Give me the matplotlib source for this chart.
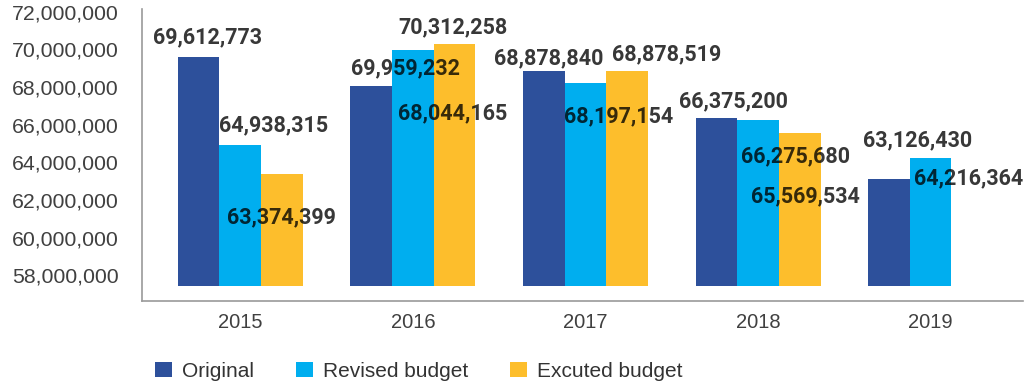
import matplotlib
matplotlib.use("Agg")
import matplotlib.pyplot as plt
import numpy as np
from matplotlib.ticker import FuncFormatter, MultipleLocator

# -----------------------------
# Budget figures per year
# -----------------------------
years = ["2015", "2016", "2017", "2018", "2019"]
original = [69612773, 68044165, 68878840, 66375200, 63126430]
revised = [64938315, 69959232, 68197154, 66275680, 64216364]
executed = [63374399, 70312258, 68878519, 65569534, np.nan]
series_names = ["Original", "Revised budget", "Excuted budget"]

# -----------------------------
# Styling
# -----------------------------
COLORS = ["#2D509B", "#00AEEF", "#FDBE2C"]
BAR_W = 0.2416
BASE = 57.44e6                     # bars start slightly above the x-axis line
YLIM = (56.63e6, 72.15e6)
XLIM = (-0.571, 4.535)

# label offsets from each bar top, in pixels (dx right, dy down)
LABEL_OFFSETS = [
    [(9, -19), (81, 27), (5, -12), (17, -16), (29, -38)],
    [(33, -19), (-7, 18), (33, 33), (37, 37), (38, 20)],
    [(-1, 43), (-2, -16), (39, -16), (6, 64), None],
]

TICK_FONT = ["Liberation Sans", "DejaVu Sans"]
LABEL_FONT = ["Roboto", "Liberation Sans", "DejaVu Sans"]

fig = plt.figure(figsize=(10.24, 3.85), dpi=100)
ax = fig.add_axes([0.1384, 0.2182, 0.8606, 0.7584])

x = np.arange(len(years))
containers = []
for i, values in enumerate([original, revised, executed]):
    vals = np.array(values, dtype=float)
    ok = ~np.isnan(vals)
    xs = x[ok] + (i - 1) * BAR_W
    bars = ax.bar(xs, vals[ok] - BASE, width=BAR_W, bottom=BASE,
                  color=COLORS[i], linewidth=0, zorder=2)
    containers.append(bars)

    # value labels
    for xi, v, off in zip(xs, vals[ok], [o for o, k in zip(LABEL_OFFSETS[i], ok) if k]):
        ax.annotate(f"{v:,.0f}", xy=(xi, v), xytext=(off[0], -off[1]),
                    textcoords="offset pixels", ha="center", va="center",
                    fontsize=15.5, fontweight="bold", family=LABEL_FONT,
                    color="black", alpha=0.78, zorder=3, annotation_clip=False)

# axes
ax.set_xlim(*XLIM)
ax.set_ylim(*YLIM)
ax.set_xticks(x)
ax.set_xticklabels(years)
ax.yaxis.set_major_locator(MultipleLocator(2e6))
ax.yaxis.set_major_formatter(FuncFormatter(lambda v, _: f"{v:,.0f}"))

for side in ["top", "right"]:
    ax.spines[side].set_visible(False)
for side in ["left", "bottom"]:
    ax.spines[side].set_color("#9a9a9a")
    ax.spines[side].set_linewidth(1.2)

ax.tick_params(axis="y", length=0, pad=16.8, labelsize=15.3, labelcolor="#404040")
ax.tick_params(axis="x", length=0, pad=9, labelsize=14.5, labelcolor="#404040")
for lbl in ax.get_yticklabels() + ax.get_xticklabels():
    lbl.set_family(TICK_FONT)

# legend along the bottom
leg = fig.legend(containers, series_names, loc="center left",
                 bbox_to_anchor=(0.1514, 0.036), ncol=3, frameon=False,
                 prop={"family": TICK_FONT, "size": 15},
                 handlelength=0.82, handleheight=0.77, handletextpad=0.48,
                 columnspacing=2.0, borderpad=0, borderaxespad=0)
for t in leg.get_texts():
    t.set_color("#333333")

fig.savefig("out.png", dpi=100)
